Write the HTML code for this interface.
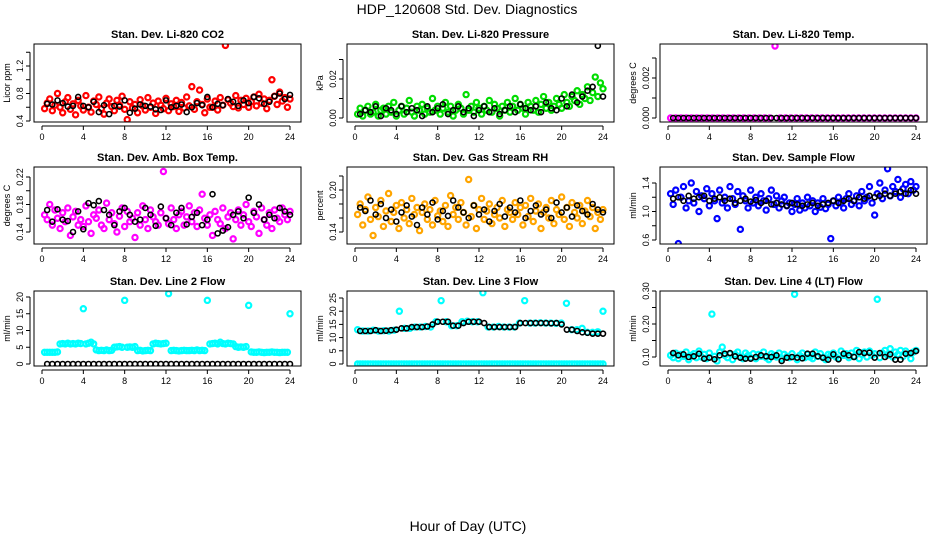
<!DOCTYPE html>
<html><head><meta charset="utf-8"><style>
body{margin:0;background:#fff}
svg text{font-family:"Liberation Sans",sans-serif}
</style></head><body>
<svg id="c" width="936" height="540" viewBox="0 0 936 540">
<text x="467" y="14" text-anchor="middle" font-size="14">HDP_120608  Std. Dev. Diagnostics</text>
<text x="468" y="531" text-anchor="middle" font-size="14">Hour of Day (UTC)</text>
</svg>
<script>
const xTicks=[0,4,8,12,16,20,24];
const co2Red=[0.58,0.66,0.72,0.55,0.63,0.80,0.60,0.52,0.68,0.74,0.57,0.65,0.49,0.70,0.62,0.56,
0.77,0.60,0.53,0.69,0.64,0.75,0.58,0.50,0.66,0.72,0.61,0.55,0.70,0.63,0.76,0.57,
0.42,0.68,0.59,0.64,0.52,0.71,0.62,0.56,0.74,0.60,0.66,0.51,0.69,0.63,0.58,0.73,
0.55,0.65,0.61,0.70,0.54,0.67,0.59,0.75,0.62,0.90,0.57,0.68,0.85,0.64,0.52,0.72,
0.60,0.60,0.69,0.56,0.74,0.63,1.50,0.71,0.66,0.61,0.77,0.59,0.70,0.64,0.73,0.60,
0.68,0.75,0.62,0.79,0.66,0.72,0.58,0.70,1.00,0.76,0.64,0.82,0.69,0.74,0.60,0.72];
const co2Black=[0.65,0.64,0.70,0.66,0.61,0.62,0.75,0.62,0.60,0.68,0.53,0.63,0.50,0.62,0.61,0.70,0.52,0.58,0.64,0.62,0.61,0.57,0.56,0.70,0.60,0.62,0.64,0.53,0.60,0.66,0.63,0.75,0.60,0.65,0.63,0.72,0.68,0.62,0.70,0.66,0.75,0.73,0.65,0.68,0.76,0.80,0.72,0.78];
const presGreen=[0.002,0.005,0.001,0.004,0.006,0.002,0.003,0.007,0.001,0.004,0.005,0.002,0.006,0.003,0.008,0.001,
0.004,0.006,0.002,0.005,0.009,0.003,0.001,0.006,0.004,0.007,0.002,0.005,0.003,0.010,0.004,0.006,
0.002,0.005,0.008,0.003,0.006,0.001,0.004,0.007,0.005,0.002,0.012,0.004,0.006,0.003,0.008,0.005,
0.002,0.006,0.004,0.009,0.003,0.007,0.005,0.001,0.006,0.004,0.008,0.003,0.006,0.010,0.004,0.007,
0.005,0.002,0.008,0.006,0.004,0.009,0.003,0.007,0.011,0.005,0.008,0.004,0.006,0.010,0.007,0.005,
0.012,0.008,0.006,0.011,0.009,0.014,0.007,0.012,0.010,0.016,0.009,0.013,0.021,0.011,0.018,0.015];
const presBlack=[0.002,0.004,0.003,0.006,0.001,0.005,0.004,0.002,0.006,0.003,0.005,0.004,0.001,0.006,0.003,0.005,0.007,0.002,0.004,0.006,0.003,0.005,0.001,0.004,0.006,0.003,0.005,0.002,0.004,0.006,0.003,0.007,0.005,0.004,0.006,0.003,0.008,0.005,0.004,0.010,0.006,0.012,0.008,0.011,0.014,0.016,0.037,0.011];
const tempMagenta=[0,0,0,0,0,0,0,0,0,0,0,0,0,0,0,0,0,0,0,0,0.0036,0,0,0,0,0,0,0,0,0,0,0,0,0,0,0,0,0,0,0,0,0,0,0,0,0,0,0];
const tempBlack=[0,0,0,0,0,0,0,0,0,0,0,0,0,0,0,0,0,0,0,0,0,0,0,0,0,0,0,0,0,0,0,0,0,0,0,0,0,0,0,0,0,0,0,0,0,0,0,0];
const boxMagenta=[0.165,0.158,0.180,0.150,0.172,0.160,0.145,0.168,0.155,0.175,0.135,0.162,0.170,0.150,0.158,0.148,
0.178,0.155,0.138,0.165,0.160,0.172,0.150,0.145,0.182,0.158,0.168,0.152,0.140,0.163,0.175,0.148,
0.170,0.155,0.160,0.132,0.168,0.150,0.178,0.158,0.145,0.172,0.162,0.155,0.150,0.168,0.228,0.160,
0.152,0.175,0.158,0.145,0.165,0.170,0.150,0.162,0.178,0.155,0.168,0.148,0.172,0.195,0.160,0.150,
0.165,0.135,0.170,0.158,0.152,0.175,0.145,0.162,0.168,0.130,0.158,0.172,0.150,0.165,0.180,0.155,
0.148,0.170,0.162,0.138,0.175,0.158,0.150,0.168,0.145,0.172,0.160,0.155,0.175,0.165,0.158,0.170];
const boxBlack=[0.172,0.155,0.173,0.158,0.156,0.140,0.170,0.144,0.182,0.179,0.185,0.172,0.165,0.150,0.170,0.175,0.165,0.155,0.158,0.175,0.165,0.149,0.177,0.160,0.150,0.168,0.175,0.151,0.162,0.168,0.150,0.158,0.195,0.138,0.142,0.147,0.165,0.170,0.160,0.190,0.168,0.180,0.158,0.165,0.160,0.175,0.170,0.165];
const rhOrange=[0.165,0.180,0.150,0.172,0.190,0.158,0.135,0.175,0.162,0.185,0.148,0.170,0.195,0.155,0.168,0.178,
0.145,0.182,0.160,0.172,0.152,0.188,0.165,0.175,0.142,0.168,0.180,0.158,0.172,0.150,0.185,0.163,
0.170,0.155,0.178,0.148,0.192,0.165,0.175,0.158,0.182,0.168,0.150,0.215,0.162,0.178,0.145,0.172,
0.188,0.158,0.170,0.180,0.152,0.165,0.175,0.160,0.185,0.148,0.172,0.168,0.158,0.182,0.165,0.175,
0.150,0.178,0.162,0.188,0.155,0.170,0.180,0.145,0.168,0.175,0.160,0.185,0.152,0.172,0.165,0.190,
0.158,0.175,0.148,0.182,0.168,0.160,0.178,0.152,0.170,0.185,0.162,0.175,0.145,0.168,0.158,0.172];
const rhBlack=[0.175,0.170,0.185,0.165,0.180,0.160,0.172,0.155,0.168,0.178,0.162,0.150,0.175,0.165,0.182,0.158,0.170,0.163,0.185,0.175,0.168,0.160,0.178,0.165,0.172,0.155,0.170,0.180,0.162,0.175,0.168,0.185,0.160,0.170,0.178,0.165,0.172,0.160,0.182,0.168,0.175,0.162,0.178,0.170,0.165,0.180,0.172,0.168];
const flowBlue=[1.25,1.10,1.30,0.55,1.20,1.35,1.05,1.15,1.40,1.12,1.28,1.00,1.22,1.18,1.32,1.08,
1.25,1.15,0.90,1.30,1.12,1.20,1.05,1.35,1.18,1.10,1.28,0.75,1.22,1.15,1.05,1.30,
1.12,1.20,1.08,1.25,1.15,1.02,1.18,1.30,1.10,1.22,1.05,1.15,1.20,1.08,1.12,1.00,
1.10,1.18,1.02,1.12,1.05,1.20,1.08,1.15,1.00,1.12,1.06,1.18,1.04,1.10,0.62,1.15,
1.08,1.20,1.12,1.05,1.18,1.25,1.10,1.15,1.22,1.08,1.28,1.15,1.20,1.35,1.12,0.95,
1.25,1.40,1.18,1.30,1.60,1.22,1.35,1.28,1.45,1.20,1.32,1.38,1.25,1.42,1.30,1.35];
const flowBlack=[1.18,1.20,1.15,1.22,1.18,1.20,1.22,1.15,1.18,1.20,1.15,1.18,1.12,1.15,1.18,1.14,1.16,1.12,1.15,1.10,1.12,1.10,1.08,1.12,1.10,1.08,1.10,1.12,1.08,1.10,1.12,1.15,1.12,1.15,1.18,1.15,1.20,1.18,1.22,1.20,1.22,1.25,1.22,1.25,1.28,1.25,1.30,1.25];
const line2Cyan=[3.5,3.5,3.5,3.5,3.5,3.6,6.0,6.1,6.0,6.2,6.0,6.1,6.0,6.2,6.1,16.5,
6.0,6.2,6.5,6.0,4.2,4.0,4.1,4.0,4.2,4.0,4.1,5.0,5.1,5.2,5.0,19.0,
5.0,5.1,5.0,5.2,4.0,4.1,3.9,4.0,4.1,4.0,6.0,6.2,6.1,6.0,6.1,6.2,
21.0,4.0,4.1,4.0,3.9,4.0,4.1,4.0,4.0,4.1,4.0,4.2,4.0,4.1,4.0,19.0,
6.0,6.1,6.2,6.0,6.5,6.1,6.0,6.2,6.1,6.0,5.2,5.0,5.1,5.0,5.2,17.5,
3.6,3.5,3.5,3.6,3.5,3.4,3.5,3.5,3.6,3.5,3.5,3.4,3.5,3.5,3.5,15.0];
const line2Black=[0,0,0,0,0,0,0,0,0,0,0,0,0,0,0,0,0,0,0,0,0,0,0,0,0,0,0,0,0,0,0,0,0,0,0,0,0,0,0,0,0,0,0,0,0,0,0,0];
const line3CyanZero=[0,0,0,0,0,0,0,0,0,0,0,0,0,0,0,0,0,0,0,0,0,0,0,0,0,0,0,0,0,0,0,0,0,0,0,0,0,0,0,0,0,0,0,0,0,0,0,0,0,0,0,0,0,0,0,0,0,0,0,0,0,0,0,0,0,0,0,0,0,0,0,0,0,0,0,0,0,0,0,0,0,0,0,0,0,0,0,0,0,0,0,0,0,0,0,0];
const line3Cyan=[13.0,12.5,12.5,12.8,12.5,12.6,12.5,12.8,20.0,13.5,13.5,14.0,14.0,14.2,14.0,16.0,24.0,16.0,14.5,14.5,16.0,16.2,16.0,16.0,27.0,14.0,14.0,14.2,14.0,14.0,14.0,15.5,24.0,15.5,15.5,15.6,15.5,15.5,15.4,15.5,23.0,13.0,13.0,13.5,12.0,12.0,12.2,20.0];
const line3Black=[12.5,12.5,12.5,12.8,12.5,12.6,12.8,13.0,13.5,13.5,14.0,14.0,14.0,14.2,15.0,16.0,16.0,16.0,14.5,14.5,15.5,16.0,16.0,16.0,15.5,14.0,14.0,14.0,14.0,14.0,14.0,15.5,15.5,15.5,15.5,15.5,15.5,15.4,15.5,15.0,13.0,13.0,12.5,12.0,11.8,11.5,11.5,11.5];
const line4Cyan=[0.105,0.098,0.112,0.095,0.108,0.102,0.115,0.092,0.105,0.110,0.098,0.118,0.100,0.108,0.095,0.112,
0.230,0.102,0.088,0.115,0.130,0.105,0.098,0.110,0.092,0.108,0.115,0.100,0.095,0.112,0.105,0.098,
0.110,0.095,0.108,0.102,0.115,0.098,0.092,0.110,0.105,0.100,0.112,0.095,0.108,0.102,0.098,0.110,
0.290,0.092,0.105,0.112,0.098,0.108,0.100,0.095,0.115,0.102,0.110,0.098,0.092,0.108,0.105,0.112,
0.100,0.095,0.118,0.105,0.110,0.098,0.112,0.102,0.120,0.095,0.108,0.115,0.100,0.118,0.105,0.110,
0.275,0.098,0.112,0.120,0.105,0.125,0.100,0.115,0.108,0.120,0.102,0.118,0.110,0.095,0.115,0.120];
const line4Black=[0.112,0.105,0.108,0.100,0.102,0.110,0.095,0.098,0.093,0.105,0.110,0.112,0.102,0.098,0.095,0.095,0.100,0.105,0.102,0.100,0.105,0.088,0.098,0.100,0.098,0.096,0.110,0.110,0.102,0.098,0.092,0.108,0.093,0.110,0.105,0.100,0.115,0.112,0.113,0.098,0.112,0.100,0.108,0.092,0.092,0.110,0.112,0.118];
const titles=["Stan. Dev. Li-820 CO2","Stan. Dev. Li-820 Pressure","Stan. Dev. Li-820 Temp.","Stan. Dev. Amb. Box Temp.","Stan. Dev. Gas Stream RH","Stan. Dev. Sample Flow","Stan. Dev. Line 2 Flow","Stan. Dev. Line 3 Flow","Stan. Dev. Line 4 (LT) Flow"];
const yTitles=["Licor ppm","kPa","degrees C","degrees C","percent","ml/min","ml/min","ml/min","ml/min"];
const yTickVals=[[0.4,0.6,0.8,1.0,1.2,1.4],[0,0.01,0.02,0.03],[0,0.001,0.002,0.003],[0.14,0.16,0.18,0.20,0.22],[0.14,0.16,0.18,0.20,0.22],[0.6,0.8,1.0,1.2,1.4],[0,5,10,15,20],[0,5,10,15,20,25],[0.10,0.15,0.20,0.25,0.30]];
const yTickLabels=[["0.4","","0.8","","1.2",""],["0.00","","0.02",""],["0.000","","0.002",""],["0.14","","0.18","","0.22"],["0.14","","","0.20",""],["0.6","","1.0","","1.4"],["0","5","10","15","20"],["0","5","10","15","20","25"],["0.10","","0.20","","0.30"]];
const colorSeries=[[co2Red],[presGreen],[tempMagenta],[boxMagenta],[rhOrange],[flowBlue],[line2Cyan],[line3CyanZero,line3Cyan],[line4Cyan]];
const blackSeries=[co2Black,presBlack,tempBlack,boxBlack,rhBlack,flowBlack,line2Black,line3Black,line4Black];

// layout (non-data)
const colors=["#ff0000","#00dd00","#ff00ff","#ff00ff","#ffa500","#0000ff","#00ffff","#00ffff","#00ffff"];
const yCal=[[0.4,121,1.2,66],[0,118,0.02,79],[0,118,0.002,78],[0.14,232,0.22,177],[0.14,232,0.20,190],[0.6,240,1.4,183],[0,364,20,297],[0,364,25,298],[0.10,357,0.30,291]];
const colL=[34,347,660],rowT=[44,167,291],rowH=[78,77,75],W=267;
const svg=document.getElementById('c'),NS="http://www.w3.org/2000/svg";
function mk(tag,attrs,parent){const e=document.createElementNS(NS,tag);for(const k in attrs)e.setAttribute(k,attrs[k]);(parent||svg).appendChild(e);return e;}
for(let p=0;p<9;p++){
  const L=colL[p%3],T=rowT[Math.floor(p/3)],H=rowH[Math.floor(p/3)];
  const g=mk('g',{});
  
  
  const xs=t=>L+8+t*248/24;
  const c=yCal[p];const ys=v=>c[1]+(v-c[0])*(c[3]-c[1])/(c[2]-c[0]);
  const clip=mk('clipPath',{id:'cl'+p},g);mk('rect',{x:L,y:T,width:W,height:H},clip);
  const t=mk('text',{x:L+W/2,y:T-6,'text-anchor':'middle','font-size':'11','font-weight':'bold'},g);t.textContent=titles[p];
  
  
  const pts=mk('g',{'clip-path':'url(#cl'+p+')',fill:'none'},g);
  colorSeries[p].forEach(arr=>{arr.forEach((v,i)=>{
    const e=mk('circle',{cx:xs(0.25+i*23.75/(arr.length-1)),cy:ys(v),r:2.6,stroke:colors[p],'stroke-width':'2.2'},pts);
    
    
  });});
  blackSeries[p].forEach((v,i,arr)=>{
    const e=mk('circle',{cx:xs(0.5+i*23.5/(arr.length-1)),cy:ys(v),r:2.5,stroke:'#000','stroke-width':'1.6'},pts);
    
    
  });
  const b=mk('rect',{x:L,y:T,width:W,height:H,fill:'none',stroke:'#000','stroke-width':'1'},g);
  
  
  const by=T+H;
  mk('line',{x1:xs(0),x2:xs(24),y1:by+4,y2:by+4,stroke:'#000'},g);
  xTicks.forEach(v=>{mk('line',{x1:xs(v),x2:xs(v),y1:by+4,y2:by+8,stroke:'#000'},g);
    const tx=mk('text',{x:xs(v),y:by+18,'text-anchor':'middle','font-size':'9'},g);tx.textContent=v;
    
    });
  const tv=yTickVals[p];
  mk('line',{x1:L-4,x2:L-4,y1:ys(tv[0]),y2:ys(tv[tv.length-1]),stroke:'#000'},g);
  tv.forEach((v,i)=>{mk('line',{x1:L-8,x2:L-4,y1:ys(v),y2:ys(v),stroke:'#000'},g);
    if(yTickLabels[p][i]){const ty=mk('text',{x:L-11,y:ys(v),'text-anchor':'middle','font-size':'9',transform:`rotate(-90 ${L-11} ${ys(v)})`},g);ty.textContent=yTickLabels[p][i];
    
    }});
  const yt=mk('text',{x:L-24,y:T+H/2,'text-anchor':'middle','font-size':'9',transform:`rotate(-90 ${L-24} ${T+H/2})`},g);yt.textContent=yTitles[p];
  
  
}
</script>
</body></html>
